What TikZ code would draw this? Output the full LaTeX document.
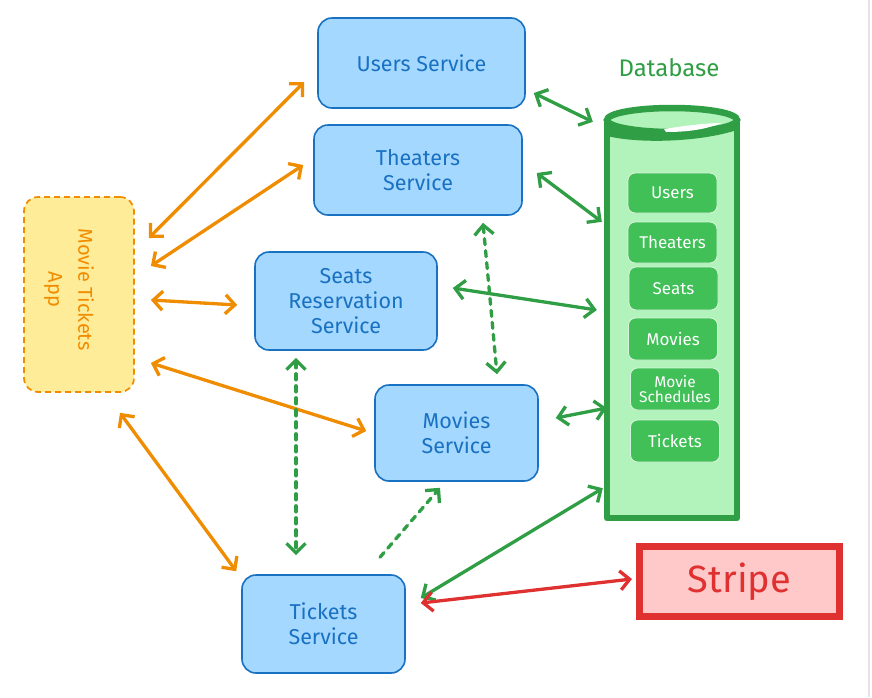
\documentclass[tikz,border=0pt]{standalone}
\usepackage{fontspec}
\setmainfont{Fira Sans}
\usetikzlibrary{arrows.meta,calc}

\definecolor{bluefill}{HTML}{A5D8FF}
\definecolor{bluestroke}{HTML}{1971C2}
\definecolor{yellowfill}{HTML}{FFEC99}
\definecolor{orangeline}{HTML}{F08C00}
\definecolor{greenfill}{HTML}{B2F2BB}
\definecolor{greenline}{HTML}{2F9E44}
\definecolor{greenitem}{HTML}{40C057}
\definecolor{redfill}{HTML}{FFC9C9}
\definecolor{redline}{HTML}{E03131}
\definecolor{edgegray}{HTML}{E3E3EA}

\tikzset{
  barb/.tip={Straight Barb[length=9.5pt,width=19pt]},
  svc/.style={draw=bluestroke, fill=bluefill, rounded corners=14pt, line width=1.6pt,
    text=bluestroke, font=\fontsize{21.5}{25}\selectfont, align=center, inner sep=0pt},
  appbox/.style={draw=orangeline, fill=yellowfill, rounded corners=14pt, line width=1.7pt,
    dashed, dash pattern=on 6pt off 4pt, inner sep=0pt},
  dbitem/.style={draw=white!80!greenitem, fill=greenitem, rounded corners=7pt, line width=0.9pt,
    text=white, font=\fontsize{17}{17}\selectfont, align=center, inner sep=0pt,
    minimum width=89pt},
  link/.style={line width=3.3pt, line cap=round, barb-barb},
  applink/.style={link, draw=orangeline},
  dblink/.style={link, draw=greenline},
  svclink/.style={link, draw=greenline, dashed, dash pattern=on 6pt off 6pt},
  paylink/.style={link, draw=redline},
}

\begin{document}
\begin{tikzpicture}[x=1pt, y=-1pt]
\useasboundingbox (0,0) rectangle (872,697);
\fill[white] (0,0) rectangle (872,697);
\draw[edgegray, line width=1.2pt] (869,0) -- (869,697);

% client application
\node[appbox, minimum width=110pt, minimum height=195pt] (app) at (79,294.5) {};
\node[rotate=-90, text=orangeline, font=\fontsize{20}{30}\selectfont, align=center]
  (applabel) at ($(app.center)+(-10,-5)$) {Movie Tickets\\App};

% services
\node[svc, minimum width=207pt, minimum height=90pt] (users) at (421.5,63) {Users Service};
\node[svc, minimum width=208pt, minimum height=90pt] (theaters) at (418,170) {Theaters\\Service};
\node[svc, minimum width=182pt, minimum height=98pt] (seats) at (346,301) {Seats\\Reservation\\Service};
\node[svc, minimum width=163pt, minimum height=96pt] (movies) at (456.5,433) {Movies\\Service};
\node[svc, minimum width=163pt, minimum height=98pt] (tickets) at (323.5,624) {Tickets\\Service};

% database cylinder
\node[minimum width=130pt, minimum height=410pt, inner sep=0pt] (db) at (672,313) {};
\node[text=greenline, font=\fontsize{24}{26}\selectfont] (dblabel) at (669,68) {Database};
\filldraw[draw=greenline, fill=greenfill, line width=6.5pt, line join=round]
  (db.west |- 0,121) -- (db.south west) -- (db.south east) -- (db.east |- 0,121);
\filldraw[draw=greenline, fill=greenfill, line width=6.5pt]
  (672,120) ellipse [x radius=65, y radius=12];
% thick front rim and its highlight
\fill[greenline] (607,121) .. controls (640,134) and (700,135) .. (737,122)
  -- (737,130) .. controls (700,142) and (640,144) .. (607,136) -- cycle;
\fill[white] (664,129) .. controls (690,125) and (708,123) .. (722,123)
  .. controls (706,129) and (690,132) .. (666,132) -- cycle;

\node[dbitem, minimum height=40pt] (tUsers) at (672.5,193) {Users};
\node[dbitem, minimum height=41pt] (tTheaters) at (672.5,242.5) {Theaters};
\node[dbitem, minimum height=43pt] (tSeats) at (673.5,288.5) {Seats};
\node[dbitem, minimum height=42pt] (tMovies) at (673,339) {Movies};
\node[dbitem, minimum height=42pt, font=\fontsize{15.5}{15}\selectfont] (tSchedules) at (675,389) {Movie\\Schedules};
\node[dbitem, minimum height=42pt] (tTickets) at (675,441) {Tickets};

% payment provider
\node[draw=redline, fill=redfill, line width=7pt, minimum width=200pt, minimum height=70pt,
  text=redline, font=\fontsize{38}{40}\selectfont, inner sep=0pt] (stripe) at (739.5,581.5) {Stripe};

% app to services
\draw[applink] ($(app.east)+(14,-56.5)$) -- ($(users.west)+(-13,19)$);
\draw[applink] ($(app.east)+(16,-28.5)$) -- ($(theaters.west)+(-10,-5)$);
\draw[applink] ($(app.east)+(16,5.5)$) -- ($(seats.west)+(-17,4)$);
\draw[applink] ($(app.east)+(16,68.5)$) -- ($(movies.west)+(-8,-2)$);
\draw[applink] ($(app.south)+(41,20)$) -- ($(tickets.north west)+(-5,-3)$);

% services to database
\draw[dblink] ($(users.east)+(8,30)$) -- ($(db.north west)+(-14,14)$);
\draw[dblink] ($(theaters.east)+(14,3)$) -- ($(db.north west)+(-5,114)$);
\draw[dblink] ($(seats.east)+(15,-13)$) -- ($(db.west)+(-10,-3)$);
\draw[dblink] ($(movies.east)+(17,-15)$) -- ($(db.west)+(0,95)$);
\draw[dblink] ($(tickets.east)+(15,-26)$) -- ($(db.south west)+(-4,-30)$);

% service to service
\draw[svclink] ($(theaters.south)+(65,7)$) -- ($(movies.north)+(40.5,-10)$);
\draw[svclink] ($(seats.south)+(-50,7)$) -- ($(tickets.north)+(-27.5,-19)$);
\draw[svclink, -barb] ($(tickets.north)+(56.5,-17)$) -- ($(movies.south)+(-16.5,6)$);

% payments
\draw[paylink] ($(tickets.east)+(15,-21)$) -- ($(stripe.west)+(-4,-2.5)$);
\end{tikzpicture}
\end{document}
